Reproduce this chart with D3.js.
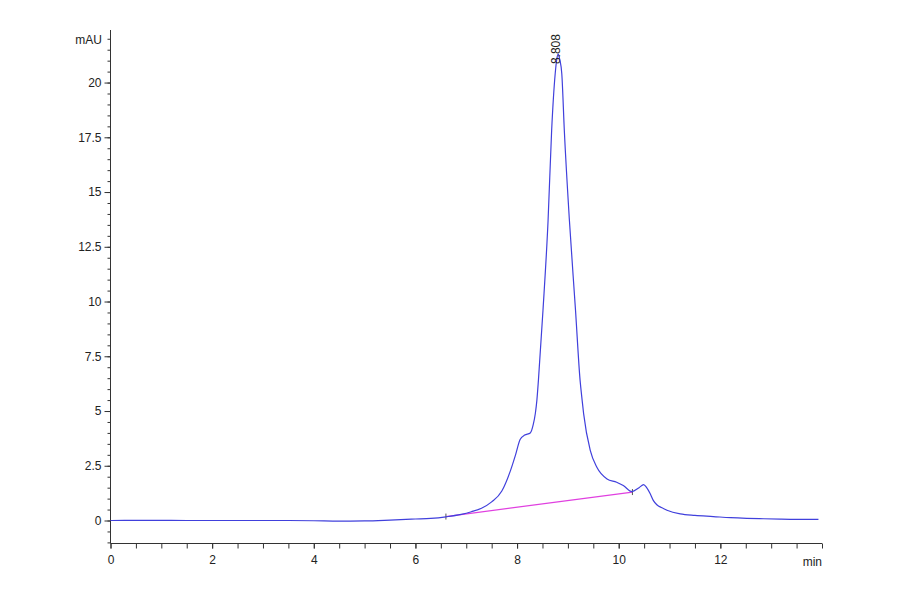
<!DOCTYPE html>
<html>
<head>
<meta charset="utf-8">
<script src="https://cdn.jsdelivr.net/npm/d3@7"></script>
<style>
  html, body { margin: 0; padding: 0; background: #fff; }
  svg text { font-family: "Liberation Sans", Arial, sans-serif; }
</style>
</head>
<body>
<svg id="chart" width="900" height="594"></svg>
<script>
// Retention time (min)
const times = [0, 0.5, 1, 1.5, 2, 2.5, 3, 3.5, 4, 4.5, 5, 5.5, 6, 6.3, 6.6, 6.9, 7.1, 7.3, 7.5, 7.7, 7.87, 7.97, 8.06, 8.15, 8.26, 8.32, 8.36, 8.39, 8.42, 8.51, 8.61, 8.68, 8.75, 8.78, 8.81, 8.84, 8.88, 8.93, 9.03, 9.15, 9.24, 9.28, 9.31, 9.44, 9.57, 9.77, 9.96, 10.09, 10.26, 10.4, 10.49, 10.55, 10.62, 10.68, 10.75, 10.85, 10.95, 11.21, 11.5, 11.86, 12.2, 12.52, 12.85, 13.18, 13.5, 13.93];
// Absorbance (mAU)
const signal = [0, 0.01, 0.01, 0, 0, 0, 0, 0, -0.01, -0.03, -0.02, 0.02, 0.07, 0.1, 0.17, 0.28, 0.4, 0.56, 0.85, 1.35, 2.28, 3.0, 3.7, 3.9, 4.0, 4.4, 4.9, 5.5, 6.4, 9.6, 13.7, 17.8, 20.4, 21.05, 21.3, 21.05, 20.4, 17.8, 13.7, 9.6, 6.4, 5.5, 4.87, 3.2, 2.43, 1.9, 1.75, 1.6, 1.32, 1.5, 1.64, 1.5, 1.22, 0.92, 0.72, 0.58, 0.47, 0.3, 0.23, 0.18, 0.13, 0.1, 0.08, 0.06, 0.05, 0.05];
// Integration baseline (start, end)
const baseTimes = [6.6, 10.27];
const baseValues = [0.18, 1.3];
// Peak label
const peakTime = 8.808;
const peakValue = 21.3;
const peakLabel = "8.808";
// Axis ticks
const xMajorTicks = [0, 2, 4, 6, 8, 10, 12];
const xMinorTicks = d3.range(0, 14.01, 0.5);
const yMajorTicks = [0, 2.5, 5, 7.5, 10, 12.5, 15, 17.5, 20];
const yMinorTicks = d3.range(-1, 22.01, 0.5);

const svg = d3.select("#chart");
const x = d3.scaleLinear().domain([0, 14]).range([110.5, 822]);
const y = d3.scaleLinear().domain([-1.05, 22.4]).range([543.5, 30]);
const axisColor = "#333";

// Y axis
const gy = svg.append("g").attr("transform", `translate(${x(0)},0)`);
gy.call(d3.axisLeft(y).tickValues(yMinorTicks).tickSize(3).tickFormat(""));
gy.call(g => g.select(".domain").remove());
const gy2 = svg.append("g").attr("transform", `translate(${x(0)},0)`);
gy2.call(d3.axisLeft(y).tickValues(yMajorTicks).tickSize(6).tickPadding(3).tickFormat(d3.format("")));
gy2.select(".domain").attr("d", `M0,${y.range()[0]}V${y.range()[1]}`);
[gy, gy2].forEach(g => {
  g.selectAll("line").attr("stroke", axisColor);
  g.selectAll("path").attr("stroke", axisColor);
  g.selectAll("text").attr("font-size", 12).attr("fill", "#222");
});

// X axis
const gx = svg.append("g").attr("transform", `translate(0,${y(-1.05)})`);
gx.call(d3.axisBottom(x).tickValues(xMinorTicks).tickSize(5).tickFormat(""));
gx.call(g => g.select(".domain").remove());
const gx2 = svg.append("g").attr("transform", `translate(0,${y(-1.05)})`);
gx2.call(d3.axisBottom(x).tickValues(xMajorTicks).tickSize(5).tickPadding(7).tickFormat(d3.format("d")));
gx2.select(".domain").attr("d", `M${x.range()[0]},0H${x.range()[1]}`);
[gx, gx2].forEach(g => {
  g.selectAll("line").attr("stroke", axisColor);
  g.selectAll("path").attr("stroke", axisColor);
  g.selectAll("text").attr("font-size", 12).attr("fill", "#222");
});

// Axis unit labels
svg.append("text").attr("x", 102).attr("y", 44).attr("text-anchor", "end")
  .attr("font-size", 12).attr("fill", "#222").text("mAU");
svg.append("text").attr("x", 822).attr("y", 566).attr("text-anchor", "end")
  .attr("font-size", 12).attr("fill", "#222").text("min");

// Integration baseline
const baseData = baseTimes.map((t, i) => [t, baseValues[i]]);
svg.append("path").datum(baseData)
  .attr("fill", "none").attr("stroke", "#e040e0").attr("stroke-width", 1.2)
  .attr("d", d3.line().x(d => x(d[0])).y(d => y(d[1])));
baseData.forEach(d => {
  svg.append("line")
    .attr("x1", x(d[0])).attr("x2", x(d[0]))
    .attr("y1", y(d[1]) - 3).attr("y2", y(d[1]) + 3)
    .attr("stroke", "#555").attr("stroke-width", 1);
});

// Chromatogram trace
const data = times.map((t, i) => [t, signal[i]]);
svg.append("path").datum(data)
  .attr("fill", "none").attr("stroke", "#4040dc").attr("stroke-width", 1.2)
  .attr("d", d3.line().curve(d3.curveMonotoneX).x(d => x(d[0])).y(d => y(d[1])));

// Peak label
const px = x(peakTime) - 2, py = y(peakValue) + 10;
svg.append("text")
  .attr("transform", `translate(${px + 4},${py}) rotate(-90)`)
  .attr("font-size", 12).attr("fill", "#222")
  .text(peakLabel);
</script>
</body>
</html>
